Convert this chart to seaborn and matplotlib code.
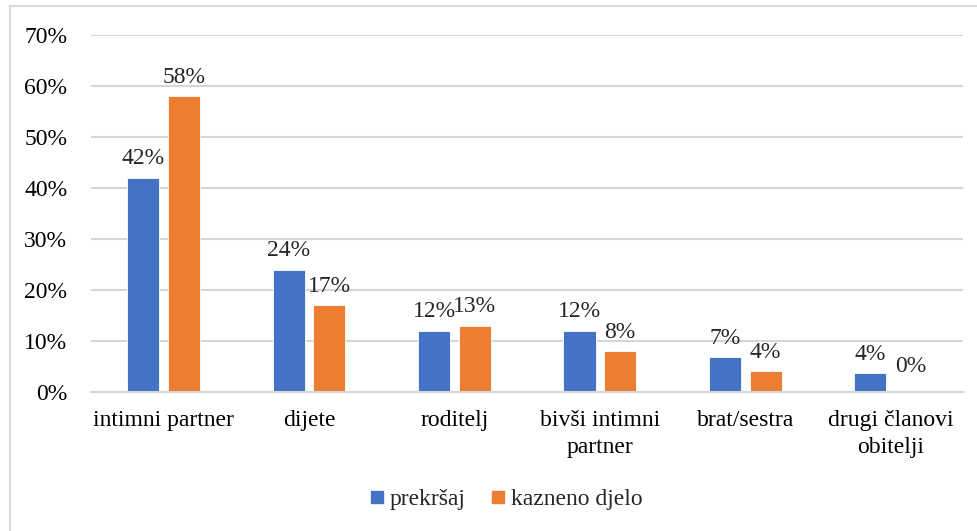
import matplotlib
matplotlib.use("Agg")
import matplotlib.pyplot as plt
import matplotlib.lines as mlines
import pandas as pd
import seaborn as sns
from matplotlib.ticker import PercentFormatter

categories = [
    "intimni partner", "dijete", "roditelj",
    "bivši intimni\npartner", "brat/sestra", "drugi članovi\nobitelji",
]
series_names = ["prekršaj", "kazneno djelo"]
prekrsaj = [42, 24, 12, 12, 6.8, 3.7]
kazneno_djelo = [58, 17, 13, 8, 4, 0]
prekrsaj_labels = ["42%", "24%", "12%", "12%", "7%", "4%"]
kazneno_labels = ["58%", "17%", "13%", "8%", "4%", "0%"]
y_ticks = [0, 10, 20, 30, 40, 50, 60, 70]

colors = ["#4472C4", "#ED7D31"]

df = pd.DataFrame({
    "kategorija": categories * 2,
    "serija": [series_names[0]] * len(categories) + [series_names[1]] * len(categories),
    "vrijednost": prekrsaj + kazneno_djelo,
})

sns.set_theme(style="white")
plt.rcParams["font.family"] = ["Liberation Serif", "DejaVu Serif"]
FS = 17

fig = plt.figure(figsize=(9.78, 5.31), dpi=100)
ax = fig.add_axes([0.093, 0.262, 0.892, 0.672])

sns.barplot(
    data=df, x="kategorija", y="vrijednost", hue="serija",
    palette=colors, saturation=1, width=0.56, gap=0.21, ax=ax,
    edgecolor="white", linewidth=0.6, legend=False,
)

ax.set_ylim(0, 70)
ax.set_xlim(-0.5, len(categories) - 0.5)
ax.set_yticks(y_ticks)
ax.yaxis.set_major_formatter(PercentFormatter(decimals=0))
ax.grid(axis="y", color="#d6d6d6", linewidth=1.5)
ax.set_axisbelow(True)
for s in ["top", "right", "left"]:
    ax.spines[s].set_visible(False)
ax.spines["bottom"].set_color("#d6d6d6")
ax.spines["bottom"].set_linewidth(1.5)
ax.tick_params(axis="both", length=0, labelsize=FS, colors="black")
ax.tick_params(axis="x", pad=13)
ax.tick_params(axis="y", pad=17)
for t in ax.get_xticklabels():
    t.set_linespacing(1.35)
ax.set_xlabel("")
ax.set_ylabel("")

# data labels; a zero value label sits higher, as in the original
for cont, labels in zip(ax.containers, [prekrsaj_labels, kazneno_labels]):
    for bar, lab in zip(cont, labels):
        h = bar.get_height()
        off = 11 if h == 0 else 6
        ax.annotate(lab, (bar.get_x() + bar.get_width() / 2, h),
                    xytext=(0, off), textcoords="offset points",
                    ha="center", va="bottom", fontsize=FS)

handles = [
    mlines.Line2D([], [], marker="s", linestyle="none", markersize=9,
                  markerfacecolor=c, markeredgecolor=c, label=n)
    for c, n in zip(colors, series_names)
]
fig.legend(handles=handles, loc="center", bbox_to_anchor=(0.517, 0.06),
           ncol=2, frameon=False, fontsize=FS, handletextpad=0.2,
           columnspacing=1.0, handlelength=0.7)

# partial frame (top and left edges) of the original chart box
fig.add_artist(mlines.Line2D([9.5 / 978, 1], [1 - 5.5 / 531, 1 - 5.5 / 531],
                             color="#d9d9d9", linewidth=1.5, transform=fig.transFigure))
fig.add_artist(mlines.Line2D([9.5 / 978, 9.5 / 978], [0, 1 - 5.5 / 531],
                             color="#d9d9d9", linewidth=1.5, transform=fig.transFigure))

fig.savefig("out.png", dpi=100)
